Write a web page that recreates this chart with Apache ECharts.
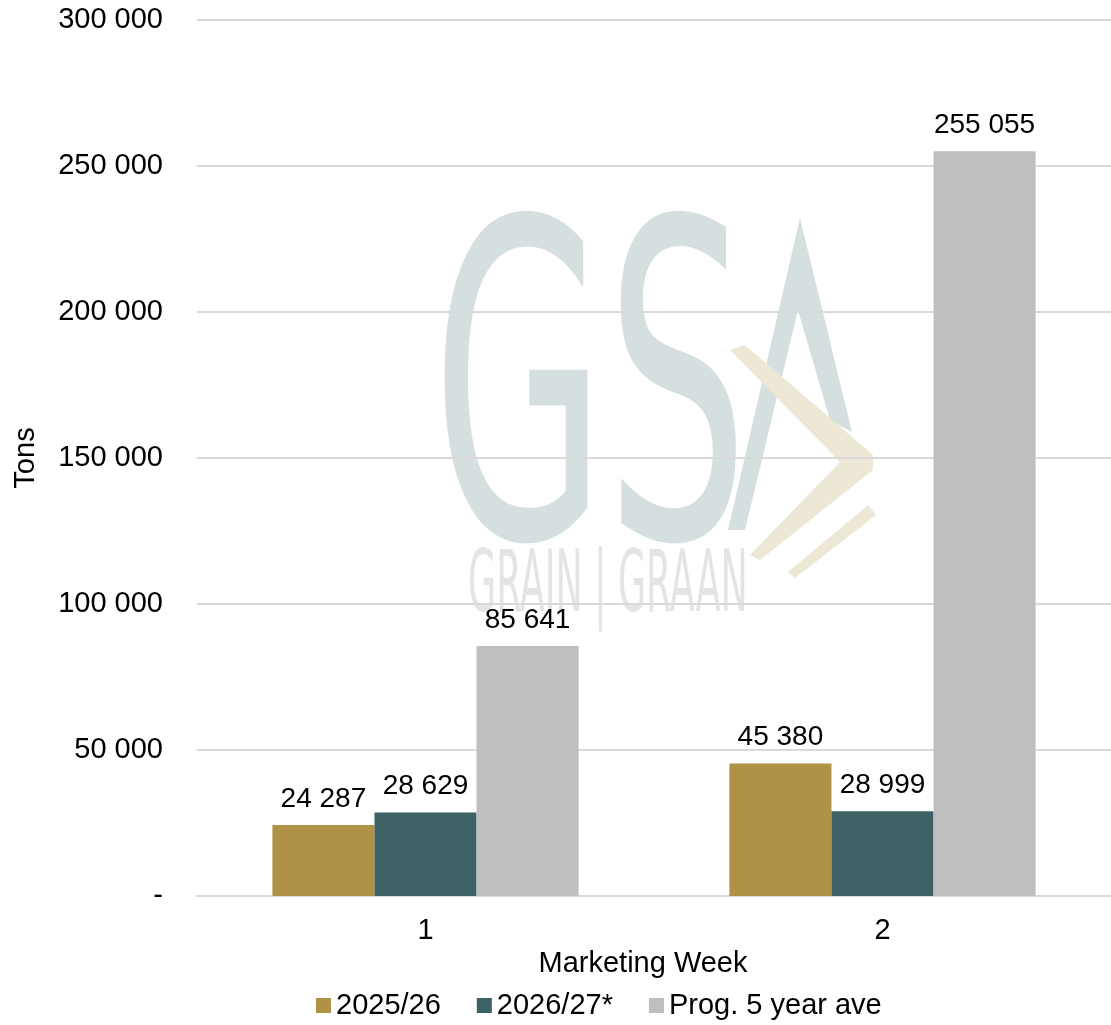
<!DOCTYPE html>
<html>
<head>
<meta charset="utf-8">
<script src="https://cdn.jsdelivr.net/npm/echarts@6/dist/echarts.min.js"></script>
<style>
  html, body { margin: 0; padding: 0; background: #fff; }
  #main { width: 1111px; height: 1025px; }
</style>
</head>
<body>
<div id="main"></div>
<script>
var weeks = ['1', '2'];
var season2526 = [24287, 45380];
var season2627 = [28629, 28999];
var fiveYearAve = [85641, 255055];
var seriesNames = ['2025/26', '2026/27*', 'Prog. 5 year ave'];

function fmt(v) {
    if (v === 0) return '-';
    return String(v).replace(/\B(?=(\d{3})+(?!\d))/g, ' ');
}

var font = 'Liberation Sans, Arial, sans-serif';
var labelStyle = {
    show: true,
    position: 'top',
    distance: 12,
    color: '#000',
    fontSize: 28,
    fontFamily: font,
    formatter: function (p) { return fmt(p.value); }
};

var myChart = echarts.init(document.getElementById('main'));
myChart.setOption({
    animation: false,
    backgroundColor: '#fff',
    textStyle: { fontFamily: font },
    // faint GSA logo watermark behind the plot
    graphic: [
        {
            type: 'text', left: 432, top: 203, z: -1, silent: true,
            scaleX: 0.51,
            style: { text: 'GS', fontSize: 440, fontFamily: 'DejaVu Sans, sans-serif', fill: '#d5dfe0' }
        },
        {
            type: 'text', left: 468, top: 546, z: -1, silent: true,
            scaleX: 0.47,
            style: { text: 'GRAIN | GRAAN', fontSize: 86, fontFamily: 'DejaVu Sans Condensed, sans-serif', fill: '#e4e4e4' }
        },
        {
            type: 'polygon', z: -1, silent: true,
            shape: { points: [[800, 218], [852, 432], [830, 420], [798, 310], [745, 530], [728, 530]] },
            style: { fill: '#d5dfe0' }
        },
        {
            type: 'polygon', z: -1, silent: true,
            shape: { points: [[730, 350], [745, 345], [873, 455], [873, 470], [760, 560], [750, 555], [840, 462]] },
            style: { fill: '#ede7d5' }
        },
        {
            type: 'polygon', z: -1, silent: true,
            shape: { points: [[868, 505], [876, 515], [795, 578], [788, 572]] },
            style: { fill: '#ede7d5' }
        }
    ],
    legend: {
        bottom: 0,
        left: 311,
        itemWidth: 15,
        itemHeight: 15,
        itemGap: 36,
        icon: 'rect',
        textStyle: { fontSize: 29, color: '#000', fontFamily: font },
        data: seriesNames
    },
    grid: { left: 197, right: 0, top: 20, bottom: 129 },
    xAxis: {
        type: 'category',
        data: weeks,
        name: 'Marketing Week',
        nameLocation: 'middle',
        nameGap: 45,
        nameTextStyle: { fontSize: 29, color: '#000', fontFamily: font, padding: [0, 22, 0, 0] },
        axisTick: { show: false },
        axisLine: { lineStyle: { color: '#d9d9d9', width: 2 } },
        axisLabel: { fontSize: 29, color: '#000', margin: 20, fontFamily: font }
    },
    yAxis: {
        type: 'value',
        min: 0,
        max: 300000,
        interval: 50000,
        name: 'Tons',
        nameLocation: 'middle',
        nameGap: 157,
        nameRotate: 90,
        nameTextStyle: { fontSize: 29, color: '#000', fontFamily: font },
        axisLine: { show: false },
        axisTick: { show: false },
        splitLine: { lineStyle: { color: '#d9d9d9', width: 2 } },
        axisLabel: { fontSize: 29, color: '#000', margin: 34, fontFamily: font, formatter: fmt }
    },
    series: [
        { name: seriesNames[0], type: 'bar', data: season2526, barGap: '0%', barCategoryGap: '33%',
          itemStyle: { color: '#AF9245' }, label: labelStyle, z: 2 },
        { name: seriesNames[1], type: 'bar', data: season2627,
          itemStyle: { color: '#3C6266' }, label: labelStyle, z: 2 },
        { name: seriesNames[2], type: 'bar', data: fiveYearAve,
          itemStyle: { color: '#BFBFBF' }, label: labelStyle, z: 2 }
    ]
});
</script>
</body>
</html>
